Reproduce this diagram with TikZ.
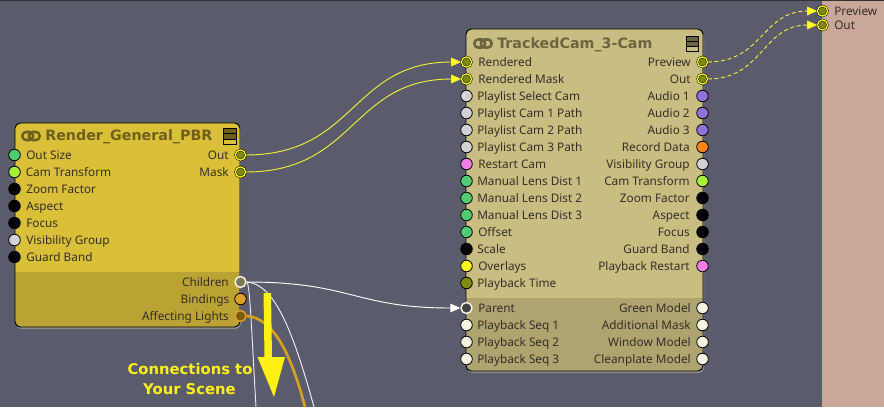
\documentclass[tikz,border=0pt]{standalone}
\usepackage{fontspec}
\setmainfont{Noto Sans}
\newfontfamily\dvfam{DejaVu Sans}
\usetikzlibrary{arrows.meta,calc,shapes.geometric}
\definecolor{bgc}{HTML}{5A5C6B}
\definecolor{pinkc}{HTML}{C9A898}
\definecolor{boxa}{HTML}{DABF38}
\definecolor{boxab}{HTML}{BAA333}
\definecolor{boxb}{HTML}{CABD82}
\definecolor{boxbb}{HTML}{AFA470}
\definecolor{titlea}{HTML}{6E5F1C}
\definecolor{titleb}{HTML}{6B6440}
\definecolor{pgreen}{HTML}{4FCB71}
\definecolor{plime}{HTML}{A6F03A}
\definecolor{pgray}{HTML}{D2D2D6}
\definecolor{ppink}{HTML}{F07EE6}
\definecolor{ppurple}{HTML}{8E72D8}
\definecolor{porange}{HTML}{FF8412}
\definecolor{pyel}{HTML}{FFFF14}
\definecolor{parrow}{HTML}{FFF014}
\definecolor{polive}{HTML}{7E8A08}
\definecolor{pcream}{HTML}{F5F3E1}
\definecolor{pamber}{HTML}{DBA128}
\definecolor{pbrown}{HTML}{7B5A10}
\definecolor{wirey}{HTML}{F2EE3A}
\definecolor{wireo}{HTML}{D9A020}
\tikzset{
  x=0.75pt,y=-0.75pt,
  port/.style={circle,draw=black,line width=0.6pt,minimum size=8.7pt,inner sep=0pt},
  hotport/.style={circle,draw=black,line width=0.35pt,double=pyel,double distance=0.95pt,fill=polive,minimum size=7.6pt,inner sep=0pt},
  ringport/.style={circle,line width=1.1pt,minimum size=8.2pt,inner sep=0pt},
  lab/.style={font=\fontsize{8.85pt}{10pt}\selectfont,text=black!85!olive,inner sep=0pt,text height=7.4pt,text depth=1.3pt},
  ttl/.style={font=\dvfam\fontsize{10.7pt}{13pt}\selectfont\bfseries,inner sep=0pt,anchor=west,text height=8.6pt,text depth=1.5pt},
  captext/.style={font=\dvfam\fontsize{11.1pt}{13pt}\selectfont\bfseries,text=parrow,inner sep=0pt},
  wire/.style={line width=0.7pt},
}
\newcommand{\pl}[5]{\node[port,fill=#3] (#1) at (\edgex,#2) {};
  \node[lab,anchor=west] (#1-t) at (#5,#2) {#4};}
\newcommand{\pr}[5]{\node[port,fill=#3] (#1) at (\edgex,#2) {};
  \node[lab,anchor=east] (#1-t) at (#5,#2) {#4};}
\begin{document}
\begin{tikzpicture}
\useasboundingbox (0,0) rectangle (884,407);
\fill[bgc] (0,0) rectangle (884,407);
\fill[black!80] (0,0) rectangle (884,1);
\fill[pinkc] (822,1) rectangle (884,407);

% ---------- left box
\fill[black!45,rounded corners=4pt] (16,125) rectangle (241,329);
\begin{scope}
\clip[rounded corners=4pt] (15,123) rectangle (240,327);
\fill[boxa] (15,123) rectangle (240,272);
\fill[boxab] (15,272) rectangle (240,327);
\end{scope}
\draw[black,line width=0.7pt,rounded corners=4pt] (15,123) rectangle (240,327);
\draw[titlea,line width=1.9pt,rounded corners=2.6pt] (22.5,132) rectangle (33,140);
\draw[titlea,line width=1.9pt,rounded corners=2.6pt] (29,132) rectangle (39.5,140);
\node[ttl,text=titlea] (ta) at (45,136) {Render\_General\_PBR};
\fill[titlea] (223,128) rectangle (236,139);
\draw[black,line width=0.6pt] (223,128) rectangle (236,144);
\draw[black,line width=0.6pt] (223,133.5) -- (236,133.5) (223,139) -- (236,139);

\def\edgex{14.5}
\pl{a1}{155}{pgreen}{Out Size}{26}
\pl{a2}{172}{plime}{Cam Transform}{25.5}
\pl{a3}{189}{black}{Zoom Factor}{26}
\pl{a4}{206}{black}{Aspect}{26}
\pl{a5}{223}{black}{Focus}{26}
\pl{a6}{240}{pgray}{Visibility Group}{26}
\pl{a7}{257}{black}{Guard Band}{26}
\def\edgex{240.5}
\node[hotport] (aout) at (240.5,155) {};
\node[lab,anchor=east] (aout-t) at (229,155) {Out};
\node[hotport] (amask) at (240.5,172) {};
\node[lab,anchor=east] (amask-t) at (229,172) {Mask};
\node[ringport,draw=pcream,fill=boxab!40!bgc] (achild) at (240.5,282) {};
\node[lab,anchor=east] (achild-t) at (229,282) {Children};
\pr{abind}{299}{pamber}{Bindings}{229.5}
\node[ringport,draw=pamber,fill=pbrown] (alight) at (240.5,316) {};
\node[lab,anchor=east] (alight-t) at (229,316) {Affecting Lights};

% ---------- right box
\fill[black!45,rounded corners=4pt] (467,31) rectangle (704,373);
\begin{scope}
\clip[rounded corners=4pt] (466,29) rectangle (703,371);
\fill[boxb] (466,29) rectangle (703,298);
\fill[boxbb] (466,298) rectangle (703,371);
\end{scope}
\draw[black,line width=0.7pt,rounded corners=4pt] (466,29) rectangle (703,371);
\draw[titleb,line width=1.9pt,rounded corners=2.6pt] (474.5,39.5) rectangle (485,47.5);
\draw[titleb,line width=1.9pt,rounded corners=2.6pt] (481,39.5) rectangle (491.5,47.5);
\node[ttl,text=titleb] (tb) at (497,43.5) {TrackedCam\_3-Cam};
\fill[titleb] (686,36) rectangle (698,46);
\draw[black,line width=0.6pt] (686,36) rectangle (698,51);
\draw[black,line width=0.6pt] (686,41) -- (698,41) (686,46) -- (698,46);

\def\edgex{466.5}
\node[hotport] (brend) at (466.5,62) {};
\node[lab,anchor=west] (brend-t) at (478,62) {Rendered};
\node[hotport] (bmask) at (466.5,79) {};
\node[lab,anchor=west] (bmask-t) at (478,79) {Rendered Mask};
\pl{b3}{96}{pgray}{Playlist Select Cam}{477}
\pl{b4}{113}{pgray}{Playlist Cam 1 Path}{477}
\pl{b5}{130}{pgray}{Playlist Cam 2 Path}{477}
\pl{b6}{147}{pgray}{Playlist Cam 3 Path}{477}
\pl{b7}{164}{ppink}{Restart Cam}{478}
\pl{b8}{181}{pgreen}{Manual Lens Dist 1}{477}
\pl{b9}{198}{pgreen}{Manual Lens Dist 2}{477}
\pl{b10}{215}{pgreen}{Manual Lens Dist 3}{477}
\pl{b11}{232}{pgreen}{Offset}{478}
\pl{b12}{249}{black}{Scale}{477}
\pl{b13}{266}{pyel}{Overlays}{478}
\pl{b14}{283}{polive}{Playback Time}{477}
\node[ringport,draw=pcream,fill=black!50!gray] (bparent) at (466.5,308) {};
\node[lab,anchor=west] (bparent-t) at (478,308) {Parent};
\pl{b16}{325}{pcream}{Playback Seq 1}{477}
\pl{b17}{342}{pcream}{Playback Seq 2}{477}
\pl{b18}{359}{pcream}{Playback Seq 3}{477}

\def\edgex{702.5}
\node[hotport] (bprev) at (702.5,62) {};
\node[lab,anchor=east] (bprev-t) at (691,62) {Preview};
\node[hotport] (bout) at (702.5,79) {};
\node[lab,anchor=east] (bout-t) at (691,79) {Out};
\pr{c3}{96}{ppurple}{Audio 1}{690}
\pr{c4}{113}{ppurple}{Audio 2}{690}
\pr{c5}{130}{ppurple}{Audio 3}{690}
\pr{c6}{147}{porange}{Record Data}{690}
\pr{c7}{164}{pgray}{Visibility Group}{690}
\pr{c8}{181}{plime}{Cam Transform}{690}
\pr{c9}{198}{black}{Zoom Factor}{690}
\pr{c10}{215}{black}{Aspect}{690}
\pr{c11}{232}{black}{Focus}{690}
\pr{c12}{249}{black}{Guard Band}{690}
\pr{c13}{266}{ppink}{Playback Restart}{690}
\pr{c15}{308}{pcream}{Green Model}{691}
\pr{c16}{325}{pcream}{Additional Mask}{691}
\pr{c17}{342}{pcream}{Window Model}{691}
\pr{c18}{359}{pcream}{Cleanplate Model}{691}

% ---------- output ports on the pink panel
\node[hotport] (oprev) at (822.5,11) {};
\node[lab,anchor=west] (oprev-t) at (834,11) {Preview};
\node[hotport] (oout) at (822.5,25) {};
\node[lab,anchor=west] (oout-t) at (834,25) {Out};

% ---------- connectors
\draw[wire,draw=wirey,-{Triangle[length=7.5pt,width=6.5pt,fill=pyel]}]
  (aout.east) .. controls ($(aout.east)+(110,0)$) and ($(brend.west)+(-110,0)$) .. (brend.west);
\draw[wire,draw=wirey,-{Triangle[length=7.5pt,width=6.5pt,fill=pyel]}]
  (amask.east) .. controls ($(amask.east)+(110,0)$) and ($(bmask.west)+(-110,0)$) .. (bmask.west);
\draw[wire,draw=wirey,densely dashed,-{Triangle[length=7.5pt,width=6.5pt,fill=pyel]}]
  (bprev.east) .. controls ($(bprev.east)+(55,0)$) and ($(oprev.west)+(-55,0)$) .. (oprev.west);
\draw[wire,draw=wirey,densely dashed,-{Triangle[length=7.5pt,width=6.5pt,fill=pyel]}]
  (bout.east) .. controls ($(bout.east)+(55,0)$) and ($(oout.west)+(-55,0)$) .. (oout.west);
\draw[wire,draw=white,-{Triangle[length=7.5pt,width=6.5pt,fill=white]}]
  (achild.east) .. controls ($(achild.east)+(105,0)$) and ($(bparent.west)+(-105,0)$) .. (bparent.west);
\coordinate (endw1) at (256,407);
\coordinate (endw2) at (314,407);
\coordinate (endo) at (305,407);
\draw[wire,draw=white!85!gray] (achild.east) .. controls (250,282) and (252,340) .. (endw1);
\draw[wire,draw=white!90!gray] (achild.east) .. controls (272,284) and (290,320) .. (endw2);
\draw[line width=2pt,draw=wireo] (alight.east) .. controls (272,318) and (290,350) .. (endo);

% ---------- big arrow
\fill[parrow] (263.5,293) -- (271,293) -- (272,357) -- (285,357) -- (274,397) -- (257.5,357) -- (264.5,357) -- cycle;
\node[captext] (ca) at (190,368.5) {Connections to};
\node[captext] (cb) at (189.5,389.5) {Your Scene};
\end{tikzpicture}
\end{document}
